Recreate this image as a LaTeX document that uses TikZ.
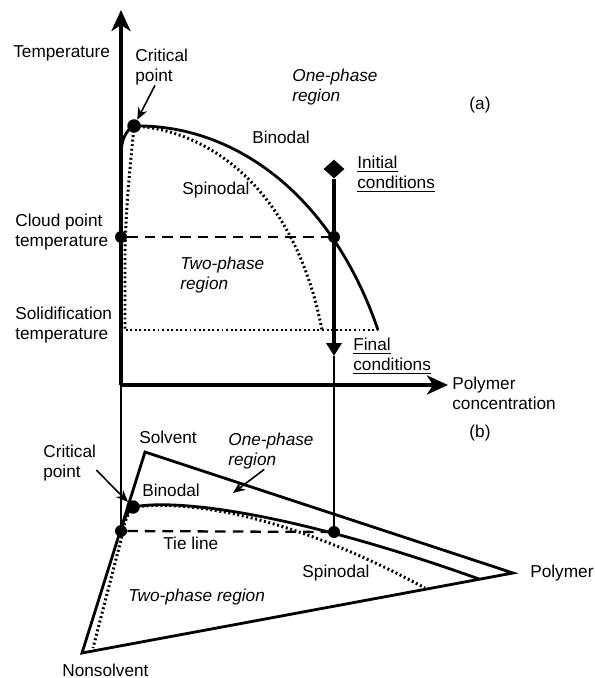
\documentclass[tikz,border=0pt]{standalone}
\usepackage{fontspec}
\setmainfont{Liberation Sans}
\usetikzlibrary{arrows.meta,shapes.geometric,calc}
\newcommand{\lblfont}{\fontsize{9.8}{11.4}\selectfont}
\tikzstyle{axis}=[line width=2.2pt,-{Stealth[length=4.2mm,width=3.8mm,inset=1.2mm]}]

\begin{document}
\begin{tikzpicture}
  [x=0.02cm,y=-0.02cm,
   dot/.style={circle,fill,inner sep=0pt,minimum size=2.4mm},
   bigdot/.style={dot,minimum size=2.7mm},
   lbl/.style={inner sep=0pt,align=left,font=\lblfont},
   reg/.style={inner sep=0pt,align=left,font=\lblfont\itshape},
   curve/.style={line width=1.6pt},
   dots/.style={line width=1.7pt,dash pattern=on 1.1pt off 1.5pt},
   dashline/.style={line width=1.3pt,dash pattern=on 6pt off 4pt},
   pointer/.style={line width=0.9pt,-{Stealth[length=2.4mm,width=2mm]}},
   proj/.style={line width=0.7pt}
  ]
  \useasboundingbox (0,0) rectangle (594,678);

  % axes
  \coordinate (O) at (121,385);
  \coordinate (Ttop) at (121,10);
  \coordinate (Cend) at (448,385);
  \draw[axis] (O) -- (Ttop);
  \draw[axis] (O) -- (Cend);

  % diagram (a)
  \node[bigdot] (crita) at (134,126) {};
  \node[dot] (clouda) at (121,237) {};
  \node[dot] (bina) at (334,237) {};
  \node[diamond,fill,inner sep=0pt,minimum width=4.2mm,minimum height=3.8mm] (init) at (334,169) {};
  \coordinate (fin) at (334,356);
  \coordinate (solid1) at (121,330);
  \coordinate (solid2) at (378,330);
  \draw[dots] (crita.center) .. controls (210,130) and (295,190) .. (322,330);
  \draw[dots] (crita.center) .. controls (132,150) and (126,200) .. (125,250) -- (125,330);
  \draw[curve] (crita.center) .. controls (230,124) and (330,190) .. (solid2);
  \draw[curve] (crita.center) .. controls (126,130) and (121,140) .. (121,155);
  \draw[dots] (solid1) -- (solid2);
  \draw[dashline] (clouda) -- (bina);
  \draw[line width=2pt,-{Triangle[length=2.6mm,width=3mm]}] (init) -- (fin);

  \node[lbl,anchor=west] (temp) at (13,53) {Temperature};
  \node[lbl,anchor=west] (cpa) at (135,67) {Critical\\point};
  \node[reg,anchor=west] (opa) at (292,87) {One-phase\\region};
  \node[lbl] (laba) at (480,105) {(a)};
  \node[lbl] (bna) at (281,137) {Binodal};
  \node[lbl,anchor=west] (ini) at (357,174) {\underline{Initial}\\\underline{conditions}};
  \node[lbl] (spa) at (216,190) {Spinodal};
  \node[lbl,anchor=west] (cpt) at (15,232) {Cloud point\\temperature};
  \node[reg,anchor=west] (tpa) at (180,275) {Two-phase\\region};
  \node[lbl,anchor=west] (sot) at (15,325) {Solidification\\temperature};
  \node[lbl,anchor=west] (fic) at (353,356) {\underline{Final}\\\underline{conditions}};
  \node[lbl,anchor=west] (pc) at (452,393) {Polymer\\concentration};
  \node[lbl] (labb) at (480,433) {(b)};

  % diagram (b)
  \coordinate (solv) at (145,452);
  \coordinate (nons) at (82,653);
  \coordinate (poly) at (513,573);
  \draw[curve,line join=miter] (solv) -- (poly) -- (nons) -- cycle;
  \node[bigdot] (critb) at (133,507) {};
  \node[dot] (tieb) at (121,531) {};
  \node[dot] (tiec) at (334,532) {};
  \draw[curve] (critb.center) .. controls (180,498) and (300,515) .. (479,579);
  \draw[curve] (critb.center) .. controls (126,513) and (122,524) .. (tieb.center);
  \draw[dots] (critb.center) .. controls (190,500) and (290,515) .. (425,588);
  \draw[dots] (critb.center) .. controls (126,515) and (123,528) .. (121,540) -- (93,648);
  \draw[dashline] (tieb) -- (tiec);
  \draw[proj] (O) -- (tieb);
  \draw[proj] (fin) -- (tiec);

  \node[lbl] (sv) at (168,437) {Solvent};
  \node[lbl,anchor=west] (cpb) at (43,463) {Critical\\point};
  \node[reg,anchor=west] (opb) at (228,451) {One-phase\\region};
  \node[lbl,anchor=west] (bnb) at (142,490) {Binodal};
  \node[lbl,anchor=west] (tl) at (163,543) {Tie line};
  \node[lbl] (spb) at (336,573) {Spinodal};
  \node[lbl,anchor=west] (pm) at (530,573) {Polymer};
  \node[reg,anchor=west] (tpb) at (128,597) {Two-phase region};
  \node[lbl,anchor=west] (ns) at (62,670) {Nonsolvent};

  %connections
  \coordinate (onetip) at (233,493);
  \draw[pointer] (cpa.250) -- (crita);
  \draw[pointer] (cpb.-15) -- (critb);
  \draw[pointer] (opb.250) -- (onetip);
\end{tikzpicture}
\end{document}
